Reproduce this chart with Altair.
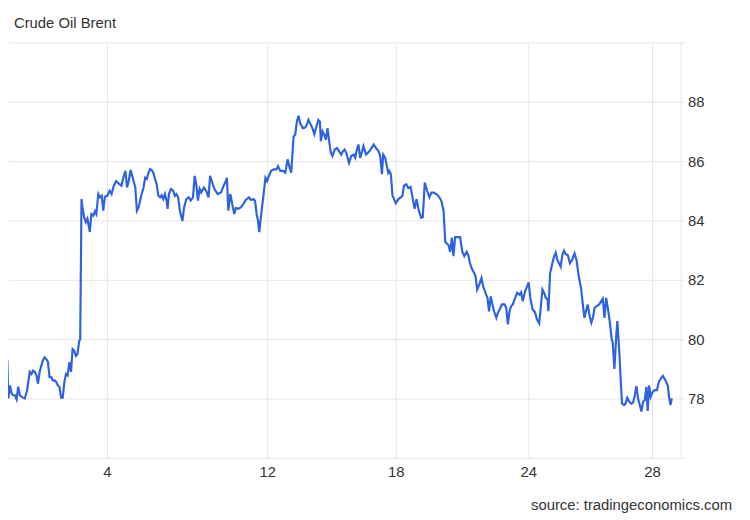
import altair as alt
import pandas as pd

FONT = "Liberation Sans"
TEXT_COLOR = "#333333"
GRID_COLOR = "#e6e6e6"
LINE_COLOR = "#2e62e0"

title_text = "Crude Oil Brent"
source_text = "source: tradingeconomics.com"

# session time (arbitrary trading-time units) of the day labels
tick_times = [108, 270, 400, 534, 659]
tick_labels = ["4", "12", "18", "24", "28"]
y_ticks = [76, 78, 80, 82, 84, 86, 88, 90]
y_domain = [76, 90]
x_domain = [8, 688]

times = [
    0, 1.7, 3.3, 5, 6, 7.3, 8.3, 10, 11.7, 13.3, 15, 16.7, 18.3, 20, 21.7, 23.3, 25, 27.3, 30, 31.7,
    33.3, 35, 36.7, 38.3, 40, 41.7, 43.3, 45, 46.7, 48.3, 50, 51.7, 53.3, 55, 56.7, 58.3, 60, 61.7, 63.3, 65,
    66.7, 68.3, 70, 71.7, 73.3, 75, 76.7, 78.3, 80, 81, 82.3, 83.3, 85, 86.7, 88.3, 90.7, 92.3, 94.3, 96, 97.3,
    99.3, 101, 102.7, 104.3, 106, 108.3, 110.7, 112.7, 115, 117.3, 120, 122.7, 125, 126.7, 128.3, 130, 132, 134, 136.7, 138.3,
    140, 142.7, 145, 146.7, 148.3, 150, 151.7, 153.3, 155, 156.7, 158.3, 160, 161.7, 163.3, 165, 166.7, 168.3, 169.3, 170.7, 172.7,
    175, 176.7, 178.3, 180, 181.7, 184.3, 186, 188.3, 190.7, 192.7, 195, 196.7, 198.3, 200, 201.7, 203.3, 206, 208.3, 210.7, 212.3,
    215, 216.7, 220, 223.3, 226, 228.3, 229.3, 230.7, 232.7, 235, 236.7, 238.3, 240.7, 243.3, 246, 248.3, 251.7, 253.3, 256, 257.7,
    259.3, 260.7, 262, 264, 266, 268.3, 270, 271.7, 274, 276.7, 279.3, 281, 283.3, 286, 288.3, 290.7, 292.3, 294.3, 296.7, 298.3,
    300, 301.7, 303.3, 306, 308.3, 310, 311.7, 313.3, 315.7, 317.7, 319.3, 321.7, 323.3, 324.3, 326, 327.7, 329.3, 331, 332.7, 334.3,
    336, 338.3, 340.7, 342.7, 345, 346.5, 348.3, 350, 352.7, 355, 357.3, 359, 360.7, 362.3, 364, 366, 367.3, 370, 373.3, 376,
    377.7, 380, 382.7, 384.3, 386, 387.3, 389.3, 390.7, 392.3, 393.3, 395, 396.7, 398.3, 400, 402.7, 405, 406.7, 408.3, 410.7, 412.7,
    415, 417.3, 419, 421, 423.3, 425.7, 427.3, 429.3, 431.7, 434, 436, 438.3, 441.7, 444, 446, 448.3, 450, 451.7, 453.3, 455,
    456.7, 458.3, 460, 462.7, 465, 467.3, 469.3, 471.7, 473.3, 475, 476.7, 479.3, 480.7, 482.3, 484.3, 486.7, 488.3, 490.7, 492.7, 494.3,
    496, 497.7, 499.3, 501.7, 503.3, 505, 507.3, 510, 511.7, 513.3, 515, 516.5, 518.3, 520.7, 522.7, 525, 526.7, 528.3, 530.7, 532.7,
    534.3, 536, 538.3, 540.7, 542.7, 545, 546.7, 548.3, 550, 551.7, 553.3, 554.3, 556, 558.3, 560, 561.7, 563.3, 565, 566.7, 568.3,
    570, 571.7, 574, 576, 578.3, 580.7, 582.7, 585, 587.3, 589.3, 590.7, 592.7, 594, 596, 597.7, 599.3, 601, 603.3, 605.7, 607.7,
    609.3, 611, 612.7, 614.3, 616, 618.3, 619.3, 621, 622.7, 624, 626, 627.3, 628.7, 630.7, 632.3, 634, 636, 638.3, 640, 641.7,
    643.3, 645, 646.7, 648.3, 650, 651.7, 653.3, 654.7, 656, 657.7, 659.3, 661.7, 664, 666, 668.3, 670, 672.7, 675, 676, 677.7,
    679,
]

prices = [
    79.61, 79.67, 79.61, 79.61, 79.28, 79.28, 78.00, 78.44, 78.17, 78.11, 78.11, 77.97, 78.40, 78.11, 78.06, 78.03, 78.00, 78.28, 78.90, 78.83,
    78.94, 78.90, 78.78, 78.50, 78.90, 79.11, 79.28, 79.39, 79.33, 79.24, 78.72, 78.72, 78.61, 78.61, 78.56, 78.44, 78.39, 78.03, 78.03, 78.56,
    78.83, 78.78, 79.22, 78.90, 79.67, 79.61, 79.44, 79.50, 79.94, 80.00, 84.72, 84.44, 84.11, 83.94, 84.06, 83.61, 84.22, 84.17, 84.31, 84.22,
    84.89, 84.78, 84.83, 84.33, 84.80, 84.83, 85.00, 84.89, 85.17, 85.33, 85.24, 85.17, 85.50, 85.67, 85.11, 85.33, 85.70, 85.45, 85.11, 84.33,
    84.44, 84.83, 85.11, 85.44, 85.40, 85.60, 85.73, 85.70, 85.60, 85.39, 85.22, 84.83, 84.78, 84.85, 84.72, 84.89, 84.67, 84.39, 84.89, 85.06,
    85.00, 84.83, 84.89, 84.78, 84.33, 83.98, 84.44, 84.72, 84.78, 84.67, 84.78, 85.50, 85.22, 84.67, 85.06, 84.94, 85.11, 85.00, 84.78, 85.50,
    85.22, 85.06, 84.89, 84.94, 85.17, 85.33, 85.44, 84.33, 84.89, 84.50, 84.22, 84.42, 84.39, 84.44, 84.56, 84.69, 84.78, 84.69, 84.72, 84.67,
    84.22, 84.00, 83.61, 84.22, 84.78, 85.44, 85.33, 85.50, 85.67, 85.72, 85.72, 85.83, 85.67, 85.67, 85.61, 86.06, 85.83, 85.61, 86.83, 86.89,
    87.33, 87.53, 87.28, 87.11, 87.13, 87.22, 87.39, 87.28, 87.11, 86.91, 87.11, 87.39, 87.33, 86.67, 87.00, 86.89, 86.72, 87.11, 86.67, 86.28,
    86.17, 86.39, 86.44, 86.33, 86.22, 86.33, 86.39, 86.28, 85.94, 86.17, 86.22, 86.11, 86.39, 86.56, 86.11, 86.33, 86.50, 86.22, 86.33, 86.47,
    86.56, 86.44, 86.33, 86.17, 85.56, 86.22, 86.11, 85.89, 85.61, 85.67, 85.56, 84.83, 84.72, 84.58, 84.72, 84.78, 84.83, 85.17, 85.22, 85.09,
    85.13, 84.72, 84.39, 84.72, 84.33, 84.09, 84.11, 85.28, 85.00, 84.78, 84.94, 84.94, 84.87, 84.78, 84.67, 84.33, 83.28, 83.22, 83.17, 82.94,
    83.42, 82.80, 83.44, 83.44, 83.44, 82.94, 82.80, 82.94, 82.83, 82.56, 82.39, 82.22, 82.11, 81.67, 81.83, 82.06, 81.78, 81.56, 81.39, 80.94,
    81.44, 81.17, 80.94, 80.72, 80.89, 81.00, 81.17, 81.17, 81.06, 80.50, 80.94, 81.11, 81.17, 81.39, 81.56, 81.50, 81.58, 81.28, 81.61, 81.78,
    81.91, 81.39, 81.00, 80.91, 80.67, 80.53, 81.11, 81.67, 81.56, 81.39, 81.36, 80.94, 82.22, 82.56, 82.78, 82.91, 82.67, 82.56, 82.44, 82.83,
    82.98, 82.87, 82.83, 82.56, 82.67, 82.89, 82.67, 82.11, 81.72, 81.11, 80.72, 81.00, 81.17, 80.78, 80.56, 80.72, 81.06, 81.11, 81.17, 81.28,
    81.36, 80.72, 81.39, 81.06, 80.67, 80.00, 79.89, 79.00, 80.00, 80.61, 79.56, 78.67, 77.83, 77.78, 77.83, 78.02, 77.89, 77.83, 77.87, 78.11,
    78.42, 77.98, 77.78, 77.56, 77.89, 77.94, 78.39, 77.58, 78.44, 78.06, 78.20, 78.28, 78.28, 78.56, 78.69, 78.76, 78.61, 78.44, 78.11, 77.78,
    78.00,
]

df = pd.DataFrame({"t": times, "price": prices})

labels_js = "[" + ",".join(f"'{l}'" for l in tick_labels) + "]"
ticks_js = "[" + ",".join(str(t) for t in tick_times) + "]"
x_label_expr = f"{labels_js}[indexof({ticks_js}, datum.value)]"

line = alt.Chart(df).mark_line(color=LINE_COLOR, strokeWidth=2.2, clip=True).encode(
    x=alt.X(
        "t:Q",
        scale=alt.Scale(domain=x_domain, nice=False, zero=False),
        axis=alt.Axis(
            values=tick_times,
            labelExpr=x_label_expr,
            title=None,
            grid=True,
            gridColor=GRID_COLOR,
            ticks=False,
            tickSize=0,
            domain=False,
            labelPadding=7,
            labelFontSize=15,
            labelFont=FONT,
            labelColor=TEXT_COLOR,
            labelFlush=False,
            labelOverlap=False,
        ),
    ),
    y=alt.Y(
        "price:Q",
        scale=alt.Scale(domain=y_domain, nice=False, zero=False),
        axis=alt.Axis(
            orient="right",
            values=y_ticks,
            labelExpr="datum.value >= 78 && datum.value <= 88 ? datum.label : ''",
            title=None,
            grid=True,
            gridColor=GRID_COLOR,
            ticks=True,
            tickSize=4,
            tickColor=GRID_COLOR,
            domain=True,
            domainColor=GRID_COLOR,
            labelPadding=3,
            labelFontSize=15,
            labelFont=FONT,
            labelColor=TEXT_COLOR,
            labelFlush=False,
            labelOverlap=False,
        ),
    ),
)

title = alt.Chart(pd.DataFrame({"label": [title_text]})).mark_text(
    align="left", baseline="alphabetic", fontSize=15, font=FONT, color=TEXT_COLOR
).encode(text="label:N", x=alt.value(6), y=alt.value(-15))

source = alt.Chart(pd.DataFrame({"label": [source_text]})).mark_text(
    align="right", baseline="alphabetic", fontSize=15, font=FONT, color=TEXT_COLOR
).encode(text="label:N", x=alt.value(732), y=alt.value(473))

chart = (
    alt.layer(line, title, source)
    .properties(
        width=680,
        height=420,
        autosize=alt.AutoSizeParams(type="none"),
        padding={"left": 0, "top": 32, "right": 62, "bottom": 56},
    )
    .configure_view(stroke=None)
)

chart.save("out.html", embed_options={"renderer": "svg", "actions": False})
